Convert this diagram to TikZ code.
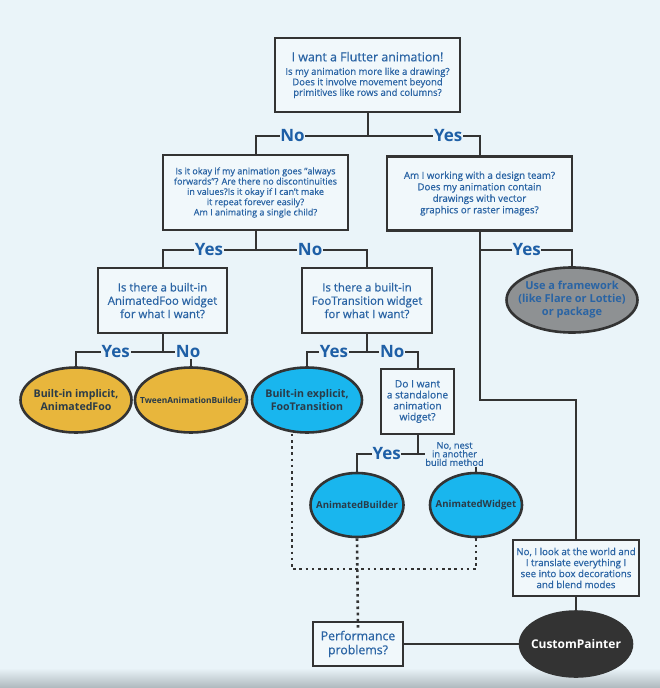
\documentclass[tikz,border=0pt]{standalone}
\usepackage{fontspec}
\setmainfont{Open Sans}
\newfontface\medfont{Open Sans}[FakeBold=0.6, Ligatures=TeX]
\usetikzlibrary{shapes.geometric}

\definecolor{bg}{HTML}{EAF4F9}
\definecolor{bgdark}{HTML}{AEB8BD}
\definecolor{boxfill}{HTML}{F1F8FB}
\definecolor{edge}{HTML}{333333}
\definecolor{qblue}{HTML}{2A64A4}
\definecolor{ynblue}{HTML}{1E5FA6}
\definecolor{balltext}{HTML}{2A3B48}
\definecolor{flutteryellow}{HTML}{E8B63C}
\definecolor{flutterblue}{HTML}{19B6EE}
\definecolor{framegray}{HTML}{8E9193}
\definecolor{painterdark}{HTML}{333333}

\newcommand{\fsz}[2]{\fontsize{#1}{#2}\selectfont}

\tikzset{
    qbox/.style={draw=edge, line width=2.6pt, fill=boxfill, text=qblue, align=center, inner sep=0pt},
    ball/.style={ellipse, draw=edge, line width=2.6pt, inner sep=0pt},
    balltxt/.style={text=balltext, align=center, inner sep=0pt},
    link/.style={draw=edge, line width=2pt},
    dots/.style={draw=edge, line width=2.6pt, dash pattern=on 2.6pt off 3.6pt},
    yn/.style={fill=bg, text=ynblue, font=\bfseries\fsz{17}{17}, inner sep=0.6pt},
}

\begin{document}
\begin{tikzpicture}[x=1pt, y=-1pt]
            \useasboundingbox (0,0) rectangle (660,688);
            \fill[bg] (0,0) rectangle (660,688);
            \shade[top color=bg, bottom color=bgdark] (0,668) rectangle (660,688);

            % questions
            \node[qbox, minimum width=185pt, minimum height=74pt, font=\medfont\fsz{9.5}{10.5}] (flutter) at (367.5,75)
                {{\fsz{12.4}{13}I want a Flutter animation!}\\[3pt]Is my animation more like a drawing?\\Does it involve movement beyond\\primitives like rows and columns?};
            \node[qbox, minimum width=185pt, minimum height=75pt, font=\medfont\fsz{9}{10.3}] (noanim) at (255.5,192.5)
                {Is it okay if my animation goes "always\\forwards"? Are there no discontinuities\\in values?Is it okay if I can't make\\it repeat forever easily?\\Am I animating a single child?};
            \node[qbox, minimum width=185pt, minimum height=74pt, font=\medfont\fsz{9.7}{11.5}] (design) at (479.5,193.5)
                {Am I working with a design team?\\Does my animation contain\\drawings with vector\\graphics or raster images?};
            \node[qbox, minimum width=129pt, minimum height=65pt, font=\medfont\fsz{11.4}{13.3}] (afoo) at (162.5,300.5)
                {Is there a built-in\\AnimatedFoo widget\\for what I want?};
            \node[qbox, minimum width=130pt, minimum height=65pt, font=\medfont\fsz{11.4}{13.3}] (ftrans) at (367,300.5)
                {Is there a built-in\\FooTransition widget\\for what I want?};
            \node[qbox, minimum width=73pt, minimum height=65pt, font=\medfont\fsz{10.2}{11}] (standalone) at (417.5,401.5)
                {Do I want\\a standalone\\animation\\widget?};
            \node[qbox, minimum width=126pt, minimum height=56pt, font=\medfont\fsz{9.7}{11}] (world) at (576,568)
                {No, I look at the world and\\I translate everything I\\see into box decorations\\and blend modes};
            \node[qbox, minimum width=90pt, minimum height=44pt, font=\medfont\fsz{12.3}{14}] (perf) at (358,644)
                {Performance\\problems?};
            \node[fill=bg, text=qblue, align=center, inner sep=0.5pt, font=\medfont\fsz{9.3}{8.6}] (nest) at (454.5,454)
                {No, nest\\in another\\build method};

            % answers
            \node[ball, fill=flutteryellow, minimum width=111pt, minimum height=65pt,
                label={[balltxt, font=\bfseries\fsz{10.6}{12.5}]center:{Built-in implicit,\\AnimatedFoo}}] (implicit) at (76,400) {};
            \node[ball, fill=flutteryellow, minimum width=112pt, minimum height=65pt,
                label={[balltxt, font=\bfseries\fsz{8.4}{9}]center:TweenAnimationBuilder}] (tween) at (191,400) {};
            \node[ball, fill=flutterblue, minimum width=110pt, minimum height=65pt,
                label={[balltxt, font=\bfseries\fsz{10.6}{12.5}]center:{Built-in explicit,\\FooTransition}}] (explicit) at (307,400) {};
            \node[ball, fill=flutterblue, minimum width=93pt, minimum height=64pt,
                label={[balltxt, font=\bfseries\fsz{9.6}{10}]center:AnimatedBuilder}] (abuilder) at (357,505) {};
            \node[ball, fill=flutterblue, minimum width=92pt, minimum height=64pt,
                label={[balltxt, font=\bfseries\fsz{9.6}{10}]center:AnimatedWidget}] (awidget) at (476,505) {};
            \node[ball, fill=framegray, minimum width=131pt, minimum height=65pt,
                label={[balltxt, text=qblue, font=\bfseries\fsz{11}{13}]center:{Use a framework\\(like Flare or Lottie)\\or package}}] (framework) at (572,300) {};
            \node[ball, fill=painterdark, minimum width=112pt, minimum height=65pt,
                label={[balltxt, text=white, font=\bfseries\fsz{12}{14}]center:CustomPainter}] (painter) at (576,644) {};

            \coordinate (j1) at (367.5,136);
            \coordinate (j2) at (255.5,250);
            \coordinate (j3) at (479.5,250);
            \coordinate (j4) at (162.5,352);
            \coordinate (j5) at (367,352);
            \coordinate (j6) at (417.5,454);
            \coordinate (bend) at (479.5,400);
            \coordinate (dotbar) at (476,569);

            \draw[link] (flutter.south) -- (j1);
            \draw[link] (noanim.north) |- node[yn, pos=.665] {No} (j1) -| node[yn, pos=.36] {Yes} (design.north);

            \draw[link] (noanim.south) -- (j2);
            \draw[link] (afoo.north) |- node[yn, pos=.75] {Yes} (j2) -| node[yn, pos=.245] {No} (ftrans.north);

            \draw[link] (design.south) -- (bend) -| (world.north);
            \draw[link] (j3) -| node[yn, pos=.255] {Yes} (framework.north);

            \draw[link] (afoo.south) -- (j4);
            \draw[link] (implicit.north) |- node[yn, pos=.73] {Yes} (j4) -| node[yn, pos=.45] {No} (tween.north);

            \draw[link] (ftrans.south) -- (j5);
            \draw[link] (explicit.north) |- node[yn, pos=.725] {Yes} (j5) -| node[yn, pos=.25] {No} (standalone.north);

            \draw[link] (standalone.south) -- (j6);
            \draw[link] (abuilder.north) |- node[yn, pos=.745] {Yes} (j6) -- (nest.west);
            \draw[link] (nest.south -| awidget.north) -- (awidget.north);

            \draw[dots] ([xshift=-15pt]explicit.south) |- (dotbar) -- (awidget.south);
            \draw[dots] (abuilder.south) -- ([yshift=-8pt]perf.north);

            \draw[link] (perf.east) -- (painter.west);
            \draw[link] (world.south) -- (painter.north);
\end{tikzpicture}
\end{document}
